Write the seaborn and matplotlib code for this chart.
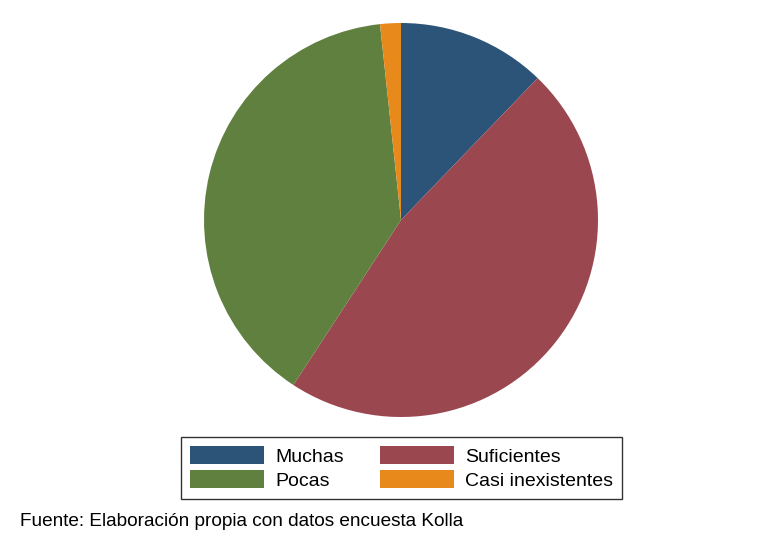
import matplotlib
matplotlib.use("Agg")
import matplotlib.pyplot as plt
import seaborn as sns
from matplotlib.patches import Patch

categories = ["Muchas", "Suficientes", "Pocas", "Casi inexistentes"]
values = [12.2, 47.0, 39.1, 1.7]
colors = ["#2c5479", "#9a4750", "#5f803f", "#e8891c"]
caption = "Fuente: Elaboración propia con datos encuesta Kolla"

sns.set_theme(style="white")
plt.rcParams["font.family"] = ["Liberation Sans", "DejaVu Sans"]
plt.rcParams["text.color"] = "black"

fig = plt.figure(figsize=(7.81, 5.35), dpi=100)
ax = fig.add_axes([204 / 781, 1 - 417 / 535, 394 / 781, 394 / 535])
ax.pie(values, colors=colors, startangle=90, counterclock=False,
       wedgeprops={"linewidth": 0})
ax.set_xlim(-1, 1)
ax.set_ylim(-1, 1)
ax.set_aspect("equal")
ax.axis("off")

# legend order: column-wise fill -> rows Muchas/Suficientes, Pocas/Casi
order = [0, 2, 1, 3]
handles = [Patch(facecolor=colors[i], edgecolor="none", label=categories[i]) for i in order]
leg = fig.legend(handles=handles, ncol=2, loc="center",
                 bbox_to_anchor=(401.5 / 781, 1 - 468 / 535), fontsize=14,
                 handlelength=3.8, handleheight=1.0, columnspacing=1.85,
                 handletextpad=0.6, labelspacing=0.25, borderpad=0.45,
                 borderaxespad=0, fancybox=False, frameon=True)
leg.get_frame().set_edgecolor("black")
leg.get_frame().set_linewidth(1.0)

fig.text(20 / 781, 1 - 521 / 535, caption, fontsize=13.7, va="center", ha="left")

fig.savefig("out.png", dpi=100)
